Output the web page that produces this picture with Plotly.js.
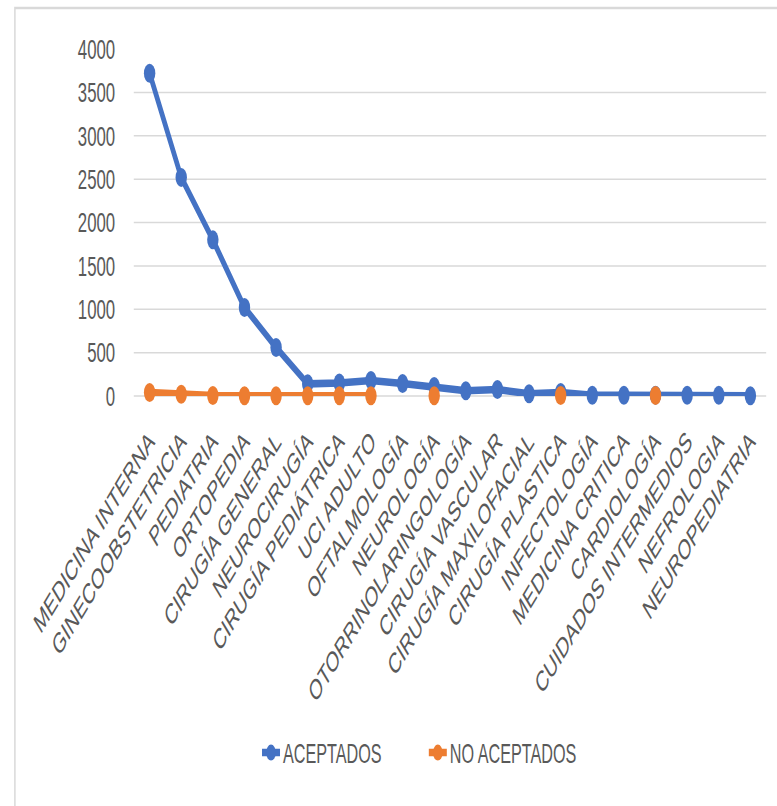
<!DOCTYPE html>
<html>
<head>
<meta charset="utf-8">
<script src="https://cdn.plot.ly/plotly-3.0.1.min.js"></script>
<style>
html,body{margin:0;padding:0;background:#fff;overflow:hidden;}
#chart{width:1295px;height:806px;transform:scaleX(0.6);transform-origin:0 0;}
</style>
</head>
<body>
<div id="chart"></div>
<script>
const categories = [
  "MEDICINA INTERNA","GINECOOBSTETRICIA","PEDIATRIA","ORTOPEDIA","CIRUGÍA GENERAL",
  "NEUROCIRUGÍA","CIRUGÍA PEDIÁTRICA","UCI ADULTO","OFTALMOLOGÍA","NEUROLOGÍA",
  "OTORRINOLARINGOLOGÍA","CIRUGÍA VASCULAR","CIRUGÍA MAXILOFACIAL","CIRUGÍA PLASTICA","INFECTOLOGÍA",
  "MEDICINA CRITICA","CARDIOLOGÍA","CUIDADOS INTERMEDIOS","NEFROLOGIA","NEUROPEDIATRIA"
];
const aceptados = [3720, 2520, 1800, 1020, 560, 140, 150, 180, 145, 110, 60, 75, 25, 40, 8, 8, 10, 8, 8, 3];
const noAceptados = [40, 20, 5, 3, 3, 3, 3, 3, null, 3, null, null, null, 5, null, null, 5, null, null, null];
const yTicks = [0, 500, 1000, 1500, 2000, 2500, 3000, 3500, 4000];

const FONT = '"Liberation Sans Narrow", "Arial Narrow", "Liberation Sans", Arial, sans-serif';
const BLUE = '#4472C4', ORANGE = '#ED7D31';

const traces = [
  {
    x: categories, y: aceptados, name: 'ACEPTADOS', type: 'scatter', mode: 'lines+markers',
    line: {color: BLUE, width: 7.5}, marker: {color: BLUE, size: 19}, cliponaxis: false
  },
  {
    x: categories, y: noAceptados, name: 'NO ACEPTADOS', type: 'scatter', mode: 'lines+markers',
    connectgaps: false,
    line: {color: ORANGE, width: 7.5}, marker: {color: ORANGE, size: 19}, cliponaxis: false
  }
];

const layout = {
  width: 1295, height: 806,
  margin: {l: 223, r: 18, t: 49, b: 410},
  paper_bgcolor: '#fff', plot_bgcolor: '#fff',
  font: {family: FONT, color: '#595959', size: 28},
  showlegend: true,
  legend: {
    orientation: 'h', x: 0.198, xanchor: 'left', y: -1.029, yanchor: 'middle',
    entrywidth: 233, entrywidthmode: 'pixels',
    font: {family: FONT, size: 27, color: '#595959'}, itemsizing: 'trace'
  },
  xaxis: {
    type: 'category', range: [-0.5, 19.5], showgrid: false, zeroline: false, showline: false,
    tickangle: -45, ticks: '', ticklabelstandoff: 22,
    tickfont: {family: FONT, size: 28.5, color: '#595959'}
  },
  yaxis: {
    range: [0, 4000], tickvals: yTicks, ticktext: yTicks.map(String),
    showgrid: true, gridcolor: '#d9d9d9', gridwidth: 1.5,
    zeroline: true, zerolinecolor: '#d9d9d9', zerolinewidth: 1.5,
    showline: false, ticks: '', ticklabelstandoff: 30,
    tickfont: {family: FONT, size: 28, color: '#595959'}
  },
  shapes: [{
    type: 'rect', xref: 'paper', yref: 'paper',
    x0: -0.188, x1: 1.2, y0: -1.5, y1: 1.118,
    line: {color: '#d9d9d9', width: 2.5}, fillcolor: 'rgba(0,0,0,0)', layer: 'below'
  }]
};

Plotly.newPlot('chart', traces, layout, {displayModeBar: false, staticPlot: true});
</script>
</body>
</html>
